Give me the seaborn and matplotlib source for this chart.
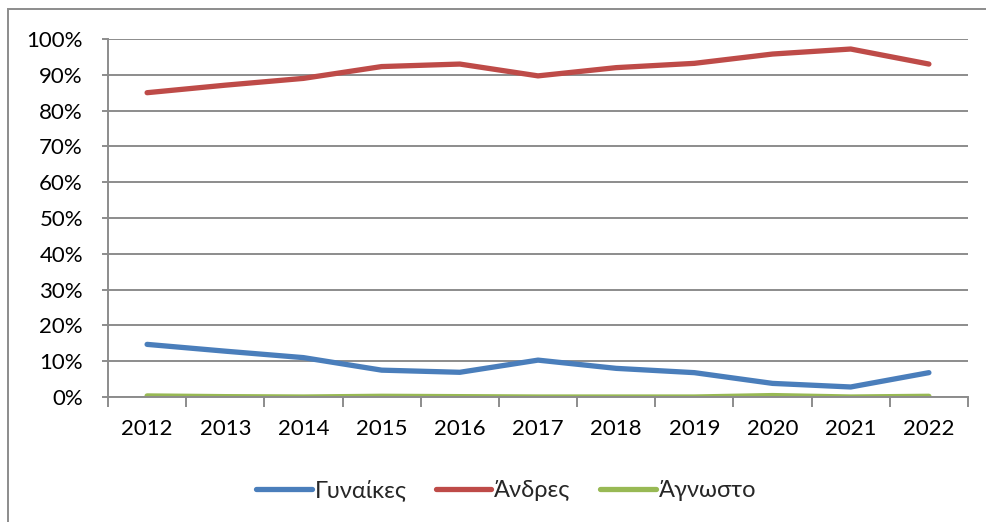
import pandas as pd
import seaborn as sns
import matplotlib.pyplot as plt
from matplotlib.patches import Rectangle
from matplotlib.ticker import FuncFormatter, MultipleLocator, FixedLocator

# δεδομένα (ποσοστά ανά φύλο)
years = [2012, 2013, 2014, 2015, 2016, 2017, 2018, 2019, 2020, 2021, 2022]
gynaikes = [14.7, 12.8, 11.0, 7.5, 6.9, 10.3, 8.0, 6.8, 3.8, 2.8, 6.8]
andres = [85.0, 87.1, 89.0, 92.3, 93.0, 89.7, 92.0, 93.2, 95.8, 97.2, 93.0]
agnosto = [0.3, 0.1, 0.0, 0.2, 0.1, 0.0, 0.0, 0.0, 0.4, 0.0, 0.2]
series_names = ['Γυναίκες', 'Άνδρες', 'Άγνωστο']
colors = ['#4A7EBB', '#BE4B48', '#98B954']

df = pd.DataFrame({'Έτος': years, series_names[0]: gynaikes,
                   series_names[1]: andres, series_names[2]: agnosto})
long = df.melt(id_vars='Έτος', var_name='Φύλο', value_name='Ποσοστό')

sns.set_theme(style='white')
plt.rcParams['font.family'] = ['Lato', 'Noto Sans', 'DejaVu Sans']

fig = plt.figure(figsize=(9.86, 5.22), dpi=100)
ax = fig.add_axes([108 / 986, 1 - 397 / 522, 860 / 986, 358 / 522])

sns.lineplot(data=long, x='Έτος', y='Ποσοστό', hue='Φύλο',
             palette=colors, linewidth=3.8, ax=ax, legend=True,
             solid_capstyle='round')

grid_c = '#8C8C8C'
ax.set_ylim(0, 100)
ax.set_xlim(years[0] - 0.5, years[-1] + 0.5)
ax.yaxis.set_major_locator(MultipleLocator(10))
ax.yaxis.set_major_formatter(FuncFormatter(lambda v, p: f'{v:.0f}%'))
ax.set_xticks(years)
ax.set_xticklabels([str(y) for y in years])
ax.xaxis.set_minor_locator(FixedLocator([y - 0.5 for y in years] + [years[-1] + 0.5]))

ax.grid(axis='y', color=grid_c, linewidth=1.4)
ax.set_axisbelow(True)
for s in ['top', 'right']:
    ax.spines[s].set_visible(False)
for s in ['left', 'bottom']:
    ax.spines[s].set_color(grid_c)
    ax.spines[s].set_linewidth(1.4)

ax.tick_params(axis='y', which='major', length=4, width=1.4, color=grid_c,
               pad=14, labelsize=16, left=True, labelcolor='black')
ax.tick_params(axis='x', which='major', length=0, pad=16, labelsize=16,
               labelcolor='black')
ax.tick_params(axis='x', which='minor', length=7, width=1.4, color=grid_c,
               bottom=True)
ax.set_xlabel('')
ax.set_ylabel('')

handles, labels = ax.get_legend_handles_labels()
ax.legend_.remove()
fig.legend(handles, labels, loc='center', bbox_to_anchor=(506 / 986, 1 - 490 / 522),
           ncol=3, frameon=False, fontsize=17, handlelength=2.35,
           handletextpad=0.12, columnspacing=1.25)

# περίγραμμα γραφήματος
fig.patches.append(Rectangle((8 / 986, -0.1), 2, 1 - 9 / 522 + 0.1,
                             transform=fig.transFigure, fill=False,
                             edgecolor='#8C8C8C', linewidth=1.4))

fig.savefig('out.png', dpi=100)
